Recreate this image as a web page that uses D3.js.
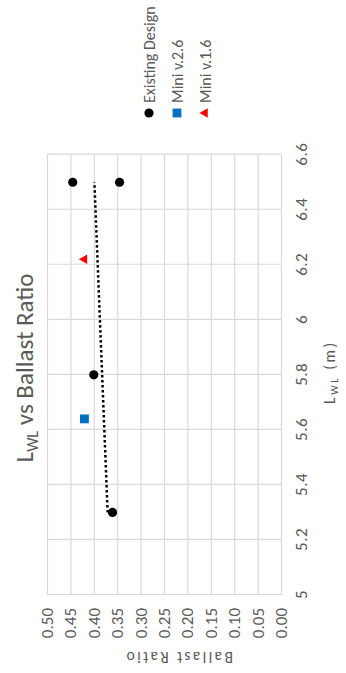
<!DOCTYPE html>
<html>
<head>
<meta charset="utf-8">
<script src="https://cdn.jsdelivr.net/npm/d3@7"></script>
<style>
  html, body { margin: 0; padding: 0; background: #fff; }
  svg { display: block; }
  text { font-family: Carlito, Lato, "Open Sans", sans-serif; fill: #595959; }
</style>
</head>
<body>
<svg id="chart" width="346" height="673"></svg>
<script>
// Waterline length vs ballast ratio
const existingL  = [5.3, 5.8, 6.5, 6.5];
const existingBR = [0.36, 0.40, 0.445, 0.345];
const mini26L  = [5.64];
const mini26BR = [0.42];
const mini16L  = [6.22];
const mini16BR = [0.42];

const lwlTicks = [5, 5.2, 5.4, 5.6, 5.8, 6, 6.2, 6.4, 6.6];
const ratioTicks = [0, 0.05, 0.1, 0.15, 0.2, 0.25, 0.3, 0.35, 0.4, 0.45, 0.5];
const seriesNames = ["Existing Design", "Mini v.2.6", "Mini v.1.6"];
const seriesColors = ["#000000", "#0070C0", "#FF0000"];

// The chart is laid out landscape (673 wide, 346 tall) and turned a quarter turn.
const W = 673, H = 346;
const svg = d3.select("#chart");
const g = svg.append("g").attr("transform", `translate(0,${W}) rotate(-90)`);

const plot = { left: 78, right: 518.3, top: 47, bottom: 281 };
const x = d3.scaleLinear().domain([5, 6.6]).range([plot.left, plot.right]);
const y = d3.scaleLinear().domain([0, 0.5]).range([plot.bottom, plot.top]);

// Horizontal axis with vertical gridlines
const xAxis = g.append("g")
  .attr("transform", `translate(0,${plot.bottom})`)
  .call(d3.axisBottom(x).tickValues(lwlTicks).tickFormat(d3.format("")).tickSize(-(plot.bottom - plot.top)).tickPadding(14));
xAxis.select(".domain").remove();
xAxis.selectAll(".tick line").attr("stroke", "#d9d9d9").attr("stroke-width", 1.2);
xAxis.selectAll(".tick text").attr("font-size", 17).attr("letter-spacing", 0.5).attr("fill", "#595959");

// Vertical axis with horizontal gridlines
const yAxis = g.append("g")
  .attr("transform", `translate(${plot.left},0)`)
  .call(d3.axisLeft(y).tickValues(ratioTicks).tickFormat(d3.format(".2f")).tickSize(-(plot.right - plot.left)).tickPadding(13));
yAxis.select(".domain").remove();
yAxis.selectAll(".tick line").attr("stroke", "#d9d9d9").attr("stroke-width", 1.2);
yAxis.selectAll(".tick text").attr("font-size", 17).attr("fill", "#595959");

// Linear trendline through the existing designs
const mL = d3.mean(existingL), mB = d3.mean(existingBR);
const sxy = d3.sum(existingL, (v, i) => (v - mL) * (existingBR[i] - mB));
const sxx = d3.sum(existingL, v => (v - mL) * (v - mL));
const slope = sxy / sxx, intercept = mB - slope * mL;
const trendX = d3.extent(existingL);
g.append("path")
  .datum(trendX.map(v => [v, intercept + slope * v]))
  .attr("d", d3.line().x(d => x(d[0])).y(d => y(d[1])))
  .attr("fill", "none")
  .attr("stroke", "#000")
  .attr("stroke-width", 2.5)
  .attr("stroke-dasharray", "2.5 2.5");

// Markers
const sym = [d3.symbolCircle, d3.symbolSquare, d3.symbolTriangle];
const symSize = [66, 78, 40];
const seriesData = [
  existingL.map((v, i) => [v, existingBR[i]]),
  mini26L.map((v, i) => [v, mini26BR[i]]),
  mini16L.map((v, i) => [v, mini16BR[i]])
];
seriesData.forEach((pts, s) => {
  g.append("g").selectAll("path")
    .data(pts)
    .join("path")
    .attr("transform", d => `translate(${x(d[0])},${y(d[1])})`)
    .attr("d", d3.symbol().type(sym[s]).size(symSize[s]))
    .attr("fill", seriesColors[s]);
});

// Title
const title = g.append("text")
  .attr("x", 305).attr("y", 33)
  .attr("text-anchor", "middle")
  .attr("font-size", 25)
  .attr("font-weight", 300);
title.append("tspan").text("L");
title.append("tspan").attr("font-size", 16).attr("dy", 5).text("WL");
title.append("tspan").attr("dy", -5).text(" vs Ballast Ratio");

// Axis titles
const xt = g.append("text")
  .attr("x", 301).attr("y", 335)
  .attr("text-anchor", "middle")
  .attr("font-size", 15.5)
  .attr("letter-spacing", 2.6);
xt.append("tspan").text("L");
xt.append("tspan").attr("font-size", 10.5).attr("dy", 3).text("WL");
xt.append("tspan").attr("dy", -3).text(" (m)");

g.append("text")
  .attr("transform", "translate(21.3,178.5) rotate(-90)")
  .attr("text-anchor", "middle")
  .attr("font-size", 15.5)
  .attr("letter-spacing", 2.4)
  .text("Ballast Ratio");

// Legend
const legend = g.append("g").attr("transform", "translate(560,149)");
seriesNames.forEach((name, i) => {
  const row = legend.append("g").attr("transform", `translate(0,${i * 28})`);
  row.append("path")
    .attr("d", d3.symbol().type(sym[i]).size(symSize[i]))
    .attr("fill", seriesColors[i]);
  row.append("text")
    .attr("x", 10).attr("dy", "0.35em")
    .attr("font-size", 16)
    .text(name);
});
</script>
</body>
</html>
